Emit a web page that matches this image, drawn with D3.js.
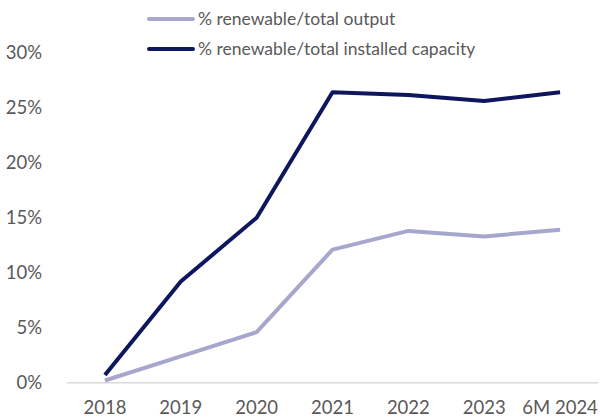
<!DOCTYPE html>
<html><head><meta charset="utf-8">
<script src="https://cdn.jsdelivr.net/npm/d3@7"></script>
<style>body{margin:0;background:#fff}svg{display:block}text{font-family:"Lato","Noto Sans",sans-serif;fill:#595959}</style>
</head><body><svg id="c" width="600" height="417"></svg>
<script>
const categories = ["2018","2019","2020","2021","2022","2023","6M 2024"];
const outputShare = [0.2, 2.4, 4.6, 12.1, 13.8, 13.3, 13.9];
const capacityShare = [0.7, 9.2, 15.0, 26.4, 26.15, 25.6, 26.4];
const seriesNames = ["% renewable/total output", "% renewable/total installed capacity"];
const seriesColors = ["#a7a6cc", "#0e165e"];
const yTicks = [0, 5, 10, 15, 20, 25, 30];

const svg = d3.select("#c");
const x = d3.scaleBand().domain(categories).range([67, 598]);
const y = d3.scaleLinear().domain([0, 30]).range([382.7, 52.7]);

svg.append("line").attr("x1", 67).attr("x2", 598).attr("y1", y(0)).attr("y2", y(0))
  .attr("stroke", "#d9d9d9").attr("stroke-width", 1.5);

svg.selectAll(".yl").data(yTicks).enter().append("text")
  .attr("x", 42).attr("y", d => y(d)).attr("dy", "0.35em").attr("text-anchor", "end")
  .attr("font-size", 18.5).text(d => d + "%");

svg.selectAll(".xl").data(categories).enter().append("text")
  .attr("x", d => x(d) + x.bandwidth() / 2).attr("y", 413.5).attr("text-anchor", "middle")
  .attr("font-size", 18.5).text(d => d);

const line = d3.line().x((d, i) => x(categories[i]) + x.bandwidth() / 2).y(d => y(d));
[outputShare, capacityShare].forEach((s, k) => {
  svg.append("path").datum(s).attr("d", line).attr("fill", "none")
    .attr("stroke", seriesColors[k]).attr("stroke-width", 4).attr("stroke-linejoin", "round");
});

seriesNames.forEach((n, k) => {
  const ly = 19 + k * 30;
  svg.append("line").attr("x1", 149).attr("x2", 193).attr("y1", ly).attr("y2", ly)
    .attr("stroke", seriesColors[k]).attr("stroke-width", 4).attr("stroke-linecap", "round");
  svg.append("text").attr("x", 198).attr("y", ly).attr("dy", "0.35em")
    .attr("font-size", 17.5).text(n);
});
</script></body></html>
